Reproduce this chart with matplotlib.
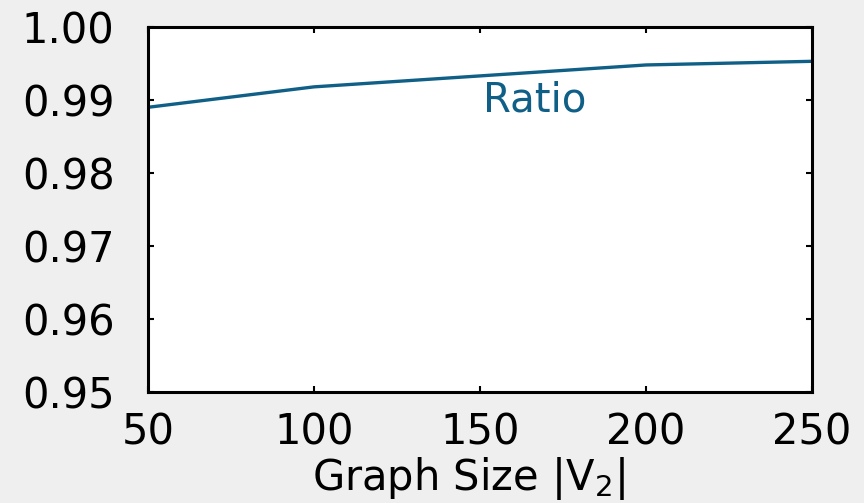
import matplotlib
matplotlib.use('Agg')
from matplotlib import pyplot as plt

# values
graph_sizes = [50, 100, 150, 200, 250]
ratio = [0.9890, 0.9918, 0.9933, 0.9948, 0.9953]
y_ticks = [0.95, 0.96, 0.97, 0.98, 0.99, 1.00]

line_color = '#0f5f87'

fig = plt.figure(figsize=(8.64, 5.03), dpi=100, facecolor='#efefef')
ax = fig.add_axes([148 / 864, 1 - 392 / 503, 664 / 864, 365 / 503])
ax.set_facecolor('white')

ax.plot(graph_sizes, ratio, color=line_color, linewidth=2.4)
ax.text(166.6, 0.9899, 'Ratio', color=line_color, fontsize=29,
        ha='center', va='center')

ax.set_xlim(50, 250)
ax.set_ylim(0.95, 1.00)
ax.set_xticks(graph_sizes)
ax.set_yticks(y_ticks)
ax.set_yticklabels(['%.2f' % t for t in y_ticks])
ax.tick_params(direction='in', length=4, width=1.5, labelsize=30,
               top=True, right=True)
ax.tick_params(axis='y', pad=24)
ax.tick_params(axis='x', pad=14)
for s in ax.spines.values():
    s.set_linewidth(2.2)

ax.set_xlabel(r'Graph Size |V$_2$|', fontsize=30)
ax.xaxis.set_label_coords(0.483, -0.172)

fig.savefig('out.png', dpi=100, facecolor=fig.get_facecolor())
